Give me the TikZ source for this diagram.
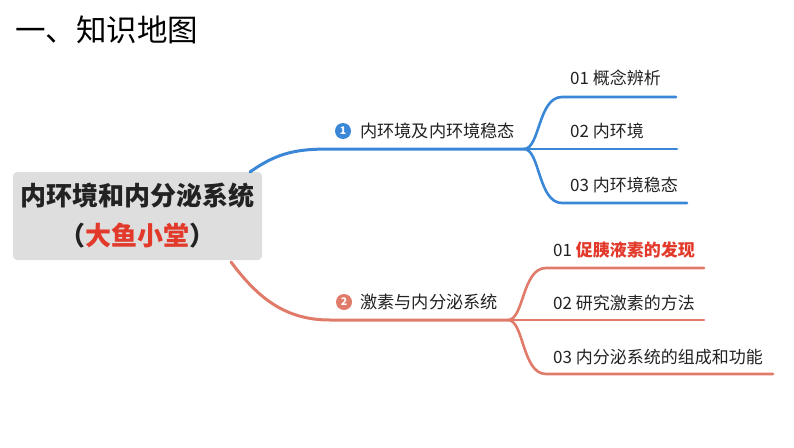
\documentclass[tikz,border=0pt]{standalone}
\usepackage{fontspec}
\setmainfont{Noto Sans CJK SC}
\definecolor{blueb}{HTML}{3A87D8}
\definecolor{redb}{HTML}{E07B6A}
\definecolor{redt}{HTML}{E2392B}
\definecolor{boxg}{HTML}{DEDEDE}
\definecolor{txt}{HTML}{222222}
\tikzset{
  branch/.style={line width=3pt, line cap=round},
  sub/.style={line width=2.6pt, line cap=round},
  leaf/.style={anchor=west, inner sep=0pt, text=txt, font=\fontsize{17}{19}\selectfont},
  blabel/.style={anchor=west, inner sep=0pt, text=txt, font=\fontsize{17.2}{19}\selectfont},
  numdot/.style={circle, inner sep=0pt, minimum size=16pt, text=white, font=\bfseries\fontsize{10.5}{10.5}\selectfont},
}
\begin{document}
\begin{tikzpicture}[x=1pt,y=-1pt]
\useasboundingbox (0,0) rectangle (794,447);
% title
\node[anchor=west, inner sep=0pt, text=black, font=\fontsize{30.5}{33}\selectfont] (title) at (15,30) {一、知识地图};
% root
\node[fill=boxg, rounded corners=4pt, minimum width=249pt, minimum height=88pt, align=center, text=txt,
  font=\bfseries\fontsize{26}{40}\selectfont] (root) at (137.5,216)
  {内环境和内分泌系统\\（\textcolor{redt}{大鱼小堂}）};
% blue branch
\coordinate (b1s) at (250,172);
\coordinate (f1) at (524,149);
\coordinate (l1) at (676,97);
\coordinate (l2) at (677,149);
\coordinate (l3) at (687,203);
\draw[branch, blueb] (b1s) .. controls (278,152) and (298,149) .. (330,149) -- (f1);
\draw[sub, blueb] (f1) .. controls (540,149) and (538,97) .. (562,97) -- (l1);
\draw[sub, blueb] (f1) -- (l2);
\draw[sub, blueb] (f1) .. controls (540,149) and (538,203) .. (562,203) -- (l3);
\node[numdot, fill=blueb] (n1) at (343,131) {1};
\node[blabel] (t1) at (360,131) {内环境及内环境稳态};
\node[leaf] (a1) at (570,78) {01 概念辨析};
\node[leaf] (a2) at (570,131) {02 内环境};
\node[leaf] (a3) at (570,185) {03 内环境稳态};
% red branch
\coordinate (b2s) at (231,262);
\coordinate (f2) at (508,320);
\coordinate (m1) at (704,268);
\coordinate (m2) at (704,320);
\coordinate (m3) at (773,374);
\draw[branch, redb] (b2s) .. controls (258,298) and (285,320) .. (330,320) -- (f2);
\draw[sub, redb] (f2) .. controls (524,320) and (522,268) .. (546,268) -- (m1);
\draw[sub, redb] (f2) -- (m2);
\draw[sub, redb] (f2) .. controls (524,320) and (522,374) .. (546,374) -- (m3);
\node[numdot, fill=redb] (n2) at (344,302) {2};
\node[blabel] (t2) at (360,302) {激素与内分泌系统};
\node[leaf] (c1) at (553,250) {01 \textcolor{redt}{\bfseries 促胰液素的发现}};
\node[leaf] (c2) at (553,303) {02 研究激素的方法};
\node[leaf] (c3) at (553,357) {03 内分泌系统的组成和功能};
\end{tikzpicture}
\end{document}
